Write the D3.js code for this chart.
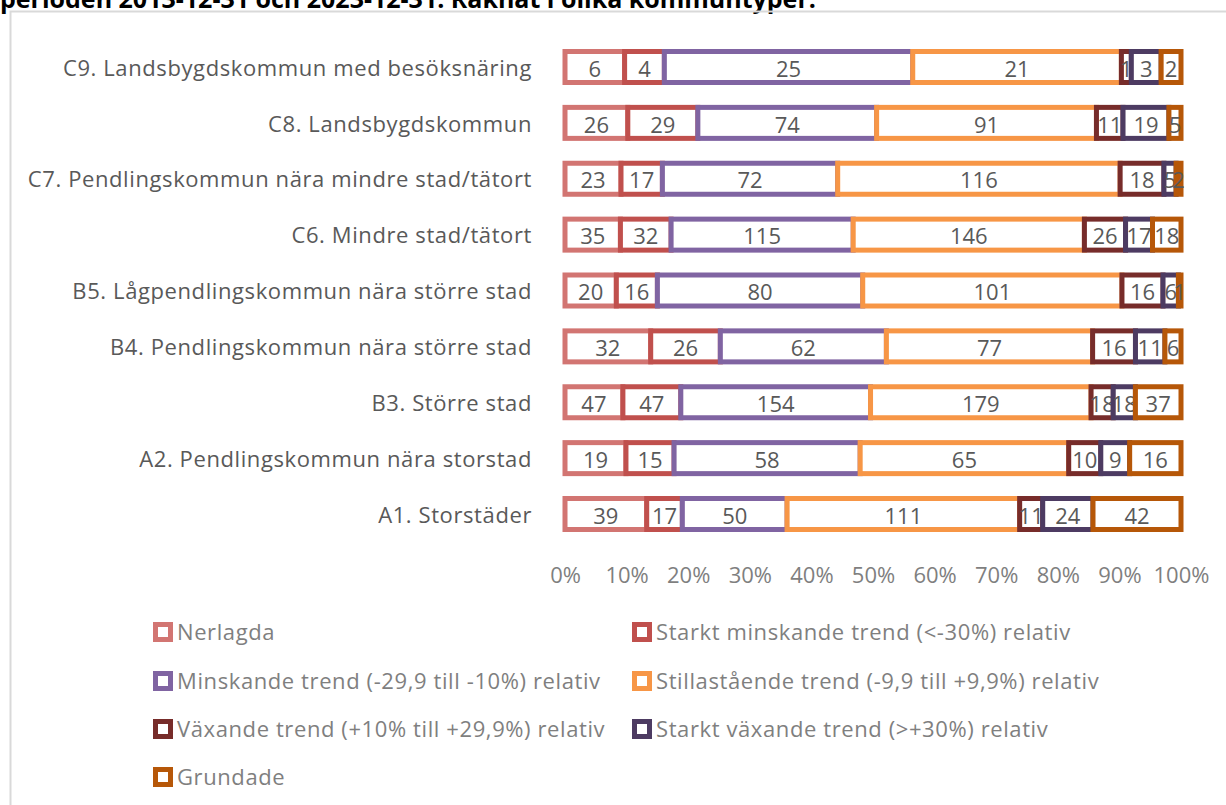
<!DOCTYPE html>
<html>
<head>
<meta charset="utf-8">
<script src="https://cdn.jsdelivr.net/npm/d3@7"></script>
<style>
  body { margin: 0; background: #fff; }
  svg { display: block; font-family: "Open Sans", Lato, sans-serif; }
</style>
</head>
<body>
<svg id="chart"></svg>
<script>
// data
const categories = [
  "C9. Landsbygdskommun med besöksnäring",
  "C8. Landsbygdskommun",
  "C7. Pendlingskommun nära mindre stad/tätort",
  "C6. Mindre stad/tätort",
  "B5. Lågpendlingskommun nära större stad",
  "B4. Pendlingskommun nära större stad",
  "B3. Större stad",
  "A2. Pendlingskommun nära storstad",
  "A1. Storstäder"
]
const seriesNames = [
  "Nerlagda",
  "Starkt minskande trend (<-30%) relativ",
  "Minskande trend (-29,9 till -10%) relativ",
  "Stillastående trend (-9,9 till +9,9%) relativ",
  "Växande trend (+10% till +29,9%) relativ",
  "Starkt växande trend (>+30%) relativ",
  "Grundade"
]
// one array per series, in the order of categories
const nerlagda      = [6, 26, 23, 35, 20, 32, 47, 19, 39]
const starktMinsk   = [4, 29, 17, 32, 16, 26, 47, 15, 17]
const minskande     = [25, 74, 72, 115, 80, 62, 154, 58, 50]
const stilla        = [21, 91, 116, 146, 101, 77, 179, 65, 111]
const vaxande       = [1, 11, 18, 26, 16, 16, 18, 10, 11]
const starktVax     = [3, 19, 5, 17, 6, 11, 18, 9, 24]
const grundade      = [2, 5, 2, 18, 1, 6, 37, 16, 42]
const tickValues = [0, 0.1, 0.2, 0.3, 0.4, 0.5, 0.6, 0.7, 0.8, 0.9, 1]
const titleText = "perioden 2013-12-31 och 2023-12-31. Räknat i olika kommuntyper."

const colors = ["#d27572", "#c0504d", "#8064a2", "#f79646", "#772c2a", "#4d3b62", "#b65708"]

const width = 1226
const height = 805
const fontSize = 22
const spacing = 0.6

const svg = d3.select('svg#chart').attr('width', width).attr('height', height)

// title (cut off by the top of the picture)
svg.append('text')
  .attr('x', 0).attr('y', 8)
  .attr('font-size', 25).attr('font-weight', 'bold')
  .attr('fill', '#000')
  .text(titleText)

// chart area border
svg.append('path')
  .attr('d', 'M10.5,' + (height + 5) + 'V11.5H' + (width + 5))
  .attr('fill', 'none').attr('stroke', '#d9d9d9').attr('stroke-width', 2)

// build table
const allSeries = [nerlagda, starktMinsk, minskande, stilla, vaxande, starktVax, grundade]
const table = categories.map((c, i) => {
  const row = { cat: c }
  seriesNames.forEach((s, j) => row[s] = allSeries[j][i])
  return row
})
const stacked = d3.stack().keys(seriesNames).offset(d3.stackOffsetExpand)(table)

const x = d3.scaleLinear().domain([0, 1]).range([565, 1181])
const y = d3.scalePoint().domain(categories).range([67, 514])
const barH = 31

const color = d3.scaleOrdinal().domain(seriesNames).range(colors)

// bars
const groups = svg.append('g').selectAll('g').data(stacked).enter().append('g')
  .attr('stroke', d => color(d.key))

groups.selectAll('rect').data(d => d).enter().append('rect')
  .attr('x', d => x(d[0]))
  .attr('width', d => x(d[1]) - x(d[0]))
  .attr('y', d => y(d.data.cat) - barH / 2)
  .attr('height', barH)
  .attr('fill', '#fff')
  .attr('stroke-width', 5)

// value labels
groups.selectAll('text').data(d => d.map(v => ({ v: v, key: d.key }))).enter().append('text')
  .attr('x', d => (x(d.v[0]) + x(d.v[1])) / 2)
  .attr('y', d => y(d.v.data.cat) + 2)
  .attr('dy', '0.35em')
  .attr('text-anchor', 'middle')
  .attr('stroke', 'none')
  .attr('fill', '#595959')
  .attr('font-size', fontSize)
  .text(d => d.v.data[d.key])

// category labels
svg.append('g').selectAll('text').data(categories).enter().append('text')
  .attr('x', 532)
  .attr('y', d => y(d) + 1)
  .attr('dy', '0.35em')
  .attr('text-anchor', 'end')
  .attr('fill', '#595959')
  .attr('font-size', fontSize)
  .attr('letter-spacing', spacing)
  .text(d => d)

// x axis labels
const xAxis = d3.axisBottom(x).tickValues(tickValues).tickFormat(d3.format('.0%')).tickSize(0)
const axisG = svg.append('g').attr('transform', 'translate(0,564)').call(xAxis)
axisG.select('.domain').remove()
axisG.selectAll('text').attr('font-size', fontSize).attr('fill', '#7f7f7f')
  .attr('font-family', '"Open Sans", Lato, sans-serif')

// legend
const legendPos = [
  [153, 632], [632, 632],
  [153, 681], [632, 681],
  [153, 729], [632, 729],
  [153, 777]
]
const legend = svg.append('g').selectAll('g').data(seriesNames).enter().append('g')
  .attr('transform', (d, i) => 'translate(' + legendPos[i][0] + ',' + legendPos[i][1] + ')')
legend.append('rect')
  .attr('x', 2.5).attr('y', -7.5).attr('width', 15).attr('height', 15)
  .attr('fill', '#fff').attr('stroke', d => color(d)).attr('stroke-width', 5)
legend.append('text')
  .attr('x', 24).attr('dy', '0.35em')
  .attr('fill', '#7f7f7f').attr('font-size', fontSize)
  .attr('letter-spacing', spacing)
  .text(d => d)
</script>
</body>
</html>
